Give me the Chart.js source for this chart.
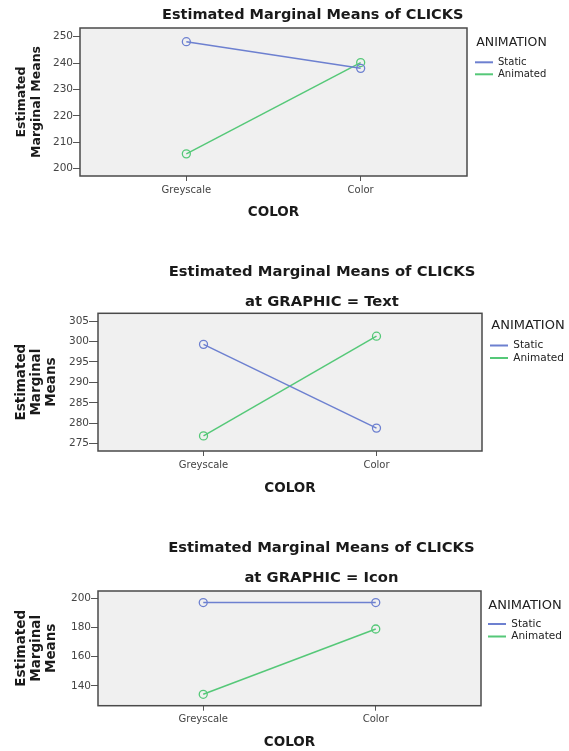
<!DOCTYPE html>
<html>
<head>
<meta charset="utf-8">
<script src="https://cdn.jsdelivr.net/npm/chart.js@4.4.1/dist/chart.umd.min.js"></script>
<style>
  html, body { margin: 0; padding: 0; background: #fff; overflow: hidden; width: 569px; height: 751px; }
  canvas { position: absolute; left: 0; }
</style>
</head>
<body>
<canvas id="chartAll" width="660" height="230" style="top:0px"></canvas>
<canvas id="chartText" width="660" height="250" style="top:250px"></canvas>
<canvas id="chartIcon" width="660" height="231" style="top:520px"></canvas>
<script>
// Factor levels
const colorLevels = ['Greyscale', 'Color'];
const animationLevels = ['Static', 'Animated'];

// Panel 1: all graphics
const allStatic = [248.1, 238.0];
const allAnimated = [205.6, 240.2];
const allTicks = [200, 210, 220, 230, 240, 250];

// Panel 2: GRAPHIC = Text
const textStatic = [299.3, 278.8];
const textAnimated = [276.9, 301.3];
const textTicks = [275, 280, 285, 290, 295, 300, 305];

// Panel 3: GRAPHIC = Icon
const iconStatic = [197.1, 197.1];
const iconAnimated = [134.3, 179.0];
const iconTicks = [140, 160, 180, 200];

const seriesColors = ['#6d80d0', '#55c878'];
const FONT = 'DejaVu Sans';

// grey plot background + dark frame like SPSS
const plotFrame = {
    id: 'plotFrame',
    beforeDraw(chart) {
        const { ctx, chartArea: a } = chart;
        ctx.save();
        ctx.fillStyle = '#f0f0f0';
        ctx.fillRect(a.left, a.top, a.width, a.height);
        ctx.restore();
    },
    afterDraw(chart) {
        const { ctx, chartArea: a } = chart;
        ctx.save();
        ctx.strokeStyle = '#4a4a4a';
        ctx.lineWidth = 1.5;
        ctx.strokeRect(a.left, a.top, a.width, a.height);
        ctx.restore();
    }
};

// empty axis used only to reserve room on the right
function spacer(weight, width) {
    return {
        type: 'linear', position: 'right', weight: weight,
        grid: { display: false }, border: { display: false },
        ticks: { display: false }, title: { display: false },
        afterFit: s => { s.width = width; }
    };
}

function drawPanel(id, p) {
    const series = [p.staticVals, p.animatedVals];
    return new Chart(document.getElementById(id), {
        type: 'line',
        data: {
            datasets: series.map((vals, s) => ({
                label: animationLevels[s],
                data: vals.map((v, i) => ({ x: i, y: v })),
                borderColor: seriesColors[s],
                backgroundColor: seriesColors[s],
                borderWidth: 1.5,
                pointRadius: 4,
                pointBorderWidth: 1.3,
                pointBackgroundColor: 'rgba(0,0,0,0)',
                pointBorderColor: seriesColors[s],
                tension: 0,
                yAxisID: 'y'
            }))
        },
        options: {
            responsive: false,
            animation: false,
            devicePixelRatio: 1,
            layout: { padding: { left: 0, top: 0, bottom: 0, right: p.padRight } },
            plugins: {
                title: {
                    display: true,
                    text: 'Estimated Marginal Means of CLICKS',
                    color: '#1a1a1a',
                    font: { family: FONT, size: p.titleSize, weight: 'bold', lineHeight: 1.2 },
                    padding: p.titlePad
                },
                subtitle: {
                    display: !!p.subtitle,
                    text: p.subtitle || '',
                    color: '#1a1a1a',
                    font: { family: FONT, size: p.titleSize, weight: 'bold', lineHeight: 1.2 },
                    padding: p.subPad || 0
                },
                legend: {
                    position: 'right',
                    align: 'start',
                    fullSize: false,
                    maxWidth: p.legendWidth,
                    title: {
                        display: true,
                        text: 'ANIMATION',
                        position: 'center',
                        color: '#222',
                        font: { family: FONT, size: p.legendTitleSize, lineHeight: 1.2 },
                        padding: { top: p.legendTitlePad[0], bottom: p.legendTitlePad[1] }
                    },
                    labels: {
                        boxWidth: 18,
                        boxHeight: 2,
                        padding: 2,
                        color: '#222',
                        font: { family: FONT, size: p.legendSize },
                        generateLabels: chart => Chart.defaults.plugins.legend.labels.generateLabels(chart)
                            .map(l => Object.assign(l, { lineWidth: 0, fillStyle: l.strokeStyle }))
                    }
                },
                tooltip: { enabled: false }
            },
            scales: {
                x: {
                    type: 'linear',
                    position: 'bottom',
                    min: -0.61,
                    max: 1.61,
                    afterBuildTicks: s => { s.ticks = colorLevels.map((_, i) => ({ value: i })); },
                    afterFit: s => { s.height = p.xAxisHeight; },
                    grid: { drawOnChartArea: false, drawTicks: true, tickLength: 5, color: '#555' },
                    border: { display: false },
                    ticks: {
                        font: { family: FONT, size: 10 }, color: '#444', padding: 3,
                        maxRotation: 0, autoSkip: false,
                        callback: v => colorLevels[v]
                    },
                    title: {
                        display: true, text: 'COLOR', color: '#1a1a1a',
                        font: { family: FONT, size: 13.5, weight: 'bold', lineHeight: 1.2 },
                        padding: { top: 0, bottom: p.xTitlePad }
                    }
                },
                y: {
                    type: 'linear',
                    position: 'left',
                    min: p.yMin,
                    max: p.yMax,
                    afterBuildTicks: s => { s.ticks = p.ticks.map(v => ({ value: v })); },
                    afterFit: s => { s.width = p.yAxisWidth; },
                    grid: { drawOnChartArea: false, drawTicks: true, tickLength: p.yTickLen, color: '#555' },
                    border: { display: false },
                    ticks: { font: { family: FONT, size: 10.5 }, color: '#444', padding: 0, autoSkip: false },
                    title: {
                        display: true, text: p.yTitle, color: '#1a1a1a',
                        font: { family: FONT, size: p.yTitleSize, weight: 'bold', lineHeight: p.yTitleLH },
                        padding: { top: p.yTitlePad, bottom: 0 }
                    }
                },
                gap: spacer(500, p.gap),
                outer: spacer(2000, p.outer)
            }
        },
        plugins: [plotFrame]
    });
}

drawPanel('chartAll', {
    staticVals: allStatic, animatedVals: allAnimated, ticks: allTicks,
    yMin: 197.2, yMax: 253.3,
    padRight: 34.6,
    titleSize: 14.5, titlePad: { top: 6.3, bottom: 4.3 },
    legendWidth: 77, gap: 6, outer: 75.4,
    legendTitleSize: 12.5, legendTitlePad: [8.45, 3.85], legendSize: 10,
    yAxisWidth: 80, yTickLen: 7,
    yTitle: ['Estimated', 'Marginal Means'], yTitleSize: 12.5, yTitleLH: 1.2, yTitlePad: 14.3,
    xAxisHeight: 54, xTitlePad: 9.9
});

drawPanel('chartText', {
    staticVals: textStatic, animatedVals: textAnimated, ticks: textTicks,
    yMin: 273.2, yMax: 306.9,
    padRight: 16,
    titleSize: 14.75, titlePad: { top: 12.85, bottom: 0 },
    subtitle: 'at GRAPHIC = Text', subPad: { top: 12.3, bottom: 2.75 },
    legendWidth: 80, gap: 6, outer: 76,
    legendTitleSize: 13, legendTitlePad: [6.2, 3.15], legendSize: 10.5,
    yAxisWidth: 98, yTickLen: 9,
    yTitle: ['Estimated', 'Marginal', 'Means'], yTitleSize: 13.5, yTitleLH: 1.11, yTitlePad: 14.2,
    xAxisHeight: 49, xTitlePad: 3.6
});

drawPanel('chartIcon', {
    staticVals: iconStatic, animatedVals: iconAnimated, ticks: iconTicks,
    yMin: 126.5, yMax: 205,
    padRight: 17.2,
    titleSize: 14.75, titlePad: { top: 19.45, bottom: 0 },
    subtitle: 'at GRAPHIC = Icon', subPad: { top: 12.3, bottom: 3.85 },
    legendWidth: 78, gap: 5, outer: 78.8,
    legendTitleSize: 13, legendTitlePad: [8.5, 1.65], legendSize: 10.5,
    yAxisWidth: 98, yTickLen: 7,
    yTitle: ['Estimated', 'Marginal', 'Means'], yTitleSize: 13.5, yTitleLH: 1.11, yTitlePad: 14.2,
    xAxisHeight: 45.3, xTitlePad: 0.2
});
</script>
</body>
</html>
